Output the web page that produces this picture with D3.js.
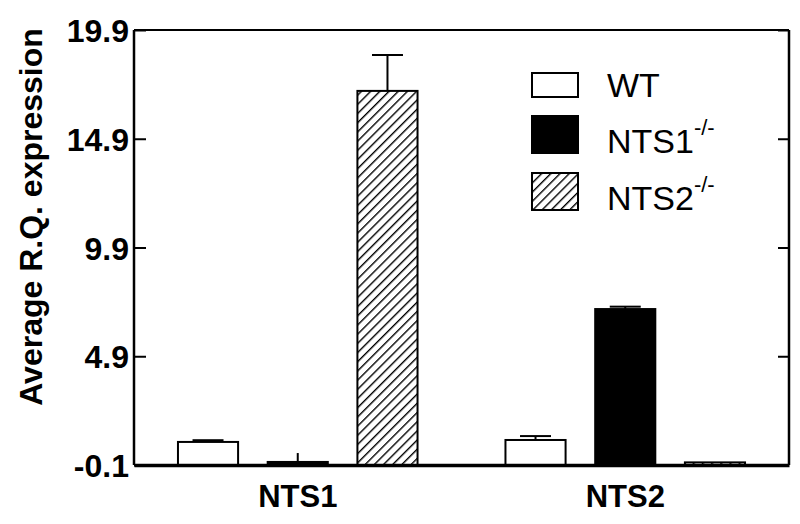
<!DOCTYPE html>
<html>
<head>
<meta charset="utf-8">
<script src="https://cdn.jsdelivr.net/npm/d3@7"></script>
<style>
  body { margin: 0; background: #fff; }
  text { font-family: "Liberation Sans", Arial, sans-serif; }
</style>
</head>
<body>
<div class="canvas"></div>
<script>
// data
const genes = ['NTS1', 'NTS2']
const strains = ['WT', 'NTS1-/-', 'NTS2-/-']
const means = {
  'WT': [0.96, 1.05],
  'NTS1-/-': [0.04, 7.07],
  'NTS2-/-': [17.1, 0.02]
}
const errors = {
  'WT': [0.08, 0.18],
  'NTS1-/-': [0.41, 0.11],
  'NTS2-/-': [1.65, 0]
}
const yTicks = [-0.1, 4.9, 9.9, 14.9, 19.9]

const width = 800
const height = 524
const margin = { top: 30, right: 11, bottom: 59, left: 134 }
const innerW = width - margin.left - margin.right
const innerH = height - margin.top - margin.bottom

const svg = d3.select('.canvas')
  .append('svg')
  .attr('width', width)
  .attr('height', height)

// hatch pattern for NTS2-/-
const defs = svg.append('defs')
defs.append('pattern')
  .attr('id', 'hatch')
  .attr('patternUnits', 'userSpaceOnUse')
  .attr('width', 6.5)
  .attr('height', 6.5)
  .attr('patternTransform', 'rotate(45)')
  .append('line')
    .attr('x1', 0).attr('y1', 0)
    .attr('x2', 0).attr('y2', 6.5)
    .attr('stroke', '#000')
    .attr('stroke-width', 2.8)

const fills = { 'WT': '#fff', 'NTS1-/-': '#000', 'NTS2-/-': 'url(#hatch)' }

const graph = svg.append('g')
  .attr('transform', `translate(${margin.left}, ${margin.top})`)

const y = d3.scaleLinear()
  .domain([-0.1, 19.9])
  .range([innerH, 0])

const x0 = d3.scaleBand()
  .domain(genes)
  .range([0, innerW])
  .padding(0)

const x1 = d3.scaleBand()
  .domain(strains)
  .range([0, x0.bandwidth()])
  .paddingInner(0.33)
  .paddingOuter(0.49)

// bars
const rows = []
genes.forEach((g, gi) => {
  strains.forEach(s => {
    rows.push({ gene: g, strain: s, value: means[s][gi], err: errors[s][gi] })
  })
})

const bars = graph.selectAll('g.bar')
  .data(rows)
  .enter()
  .append('g')
  .attr('class', 'bar')
  .attr('transform', d => `translate(${x0(d.gene) + x1(d.strain)}, 0)`)

bars.append('rect')
  .attr('x', 0)
  .attr('y', d => y(d.value))
  .attr('width', x1.bandwidth())
  .attr('height', d => y(-0.1) - y(d.value))
  .attr('fill', d => fills[d.strain])
  .attr('stroke', '#000')
  .attr('stroke-width', 2)

// error bars (upper only), the tiny one has no visible cap
const capW = 31
const errs = bars.filter(d => d.err > 0)
errs.append('line')
  .attr('x1', x1.bandwidth() / 2)
  .attr('x2', x1.bandwidth() / 2)
  .attr('y1', d => y(d.value))
  .attr('y2', d => y(d.value + d.err))
  .attr('stroke', '#000')
  .attr('stroke-width', 2)
errs.filter(d => d.value > 0.5)
  .append('line')
  .attr('x1', x1.bandwidth() / 2 - capW / 2)
  .attr('x2', x1.bandwidth() / 2 + capW / 2)
  .attr('y1', d => y(d.value + d.err))
  .attr('y2', d => y(d.value + d.err))
  .attr('stroke', '#000')
  .attr('stroke-width', 2)

// frame
graph.append('line')
  .attr('x1', 0).attr('x2', innerW)
  .attr('y1', 0).attr('y2', 0)
  .attr('stroke', '#000').attr('stroke-width', 2)
graph.append('line')
  .attr('x1', innerW).attr('x2', innerW)
  .attr('y1', 0).attr('y2', innerH)
  .attr('stroke', '#000').attr('stroke-width', 2.5)

// right axis ticks, no labels
graph.append('g')
  .attr('transform', `translate(${innerW}, 0)`)
  .call(d3.axisLeft(y).tickValues(yTicks).tickSize(11).tickFormat(''))
  .call(g => g.select('.domain').remove())
  .call(g => g.selectAll('.tick line').attr('stroke-width', 2))

// left axis, ticks pointing inward
const yAxis = graph.append('g')
  .call(d3.axisRight(y).tickValues(yTicks).tickSize(12).tickFormat(d => d.toFixed(1)))
yAxis.select('.domain')
  .attr('stroke-width', 2.5)
  .attr('d', `M0,0V${innerH}`)
yAxis.selectAll('.tick line').attr('stroke-width', 2)
yAxis.selectAll('.tick text')
  .attr('x', -5)
  .attr('dy', '0.36em')
  .attr('text-anchor', 'end')
  .style('font-size', '32px')
  .style('font-weight', 'bold')
  .attr('fill', '#000')

// x axis
const xAxis = graph.append('g')
  .attr('transform', `translate(0, ${innerH})`)
  .call(d3.axisBottom(x0).tickSize(0).tickPadding(20))
xAxis.select('.domain').attr('stroke-width', 3.5)
xAxis.selectAll('.tick text')
  .attr('dy', '0.71em')
  .style('font-size', '31px')
  .style('font-weight', 'bold')
  .attr('fill', '#000')

// y title
svg.append('text')
  .attr('transform', `translate(42, ${margin.top + 187}) rotate(-90)`)
  .attr('text-anchor', 'middle')
  .style('font-size', '32px')
  .style('font-weight', 'bold')
  .text('Average R.Q.  expression')

// legend
const legend = svg.append('g')
  .attr('transform', 'translate(532, 73)')
const legendItems = legend.selectAll('g')
  .data(strains)
  .enter()
  .append('g')
  .attr('transform', (d, i) => `translate(0, ${i === 0 ? 0 : 43 + (i - 1) * 57})`)

legendItems.append('rect')
  .attr('width', 46)
  .attr('height', (d, i) => i === 0 ? 24 : 37)
  .attr('fill', d => fills[d])
  .attr('stroke', '#000')
  .attr('stroke-width', 2)

const ltext = legendItems.append('text')
  .attr('x', 75)
  .attr('y', (d, i) => i === 0 ? 24 : 37)
  .style('font-size', '34px')
ltext.append('tspan')
  .text(d => d.replace('-/-', ''))
ltext.filter(d => d.includes('-/-'))
  .append('tspan')
  .attr('dy', -18)
  .style('font-size', '22px')
  .text('-/-')
</script>
</body>
</html>
